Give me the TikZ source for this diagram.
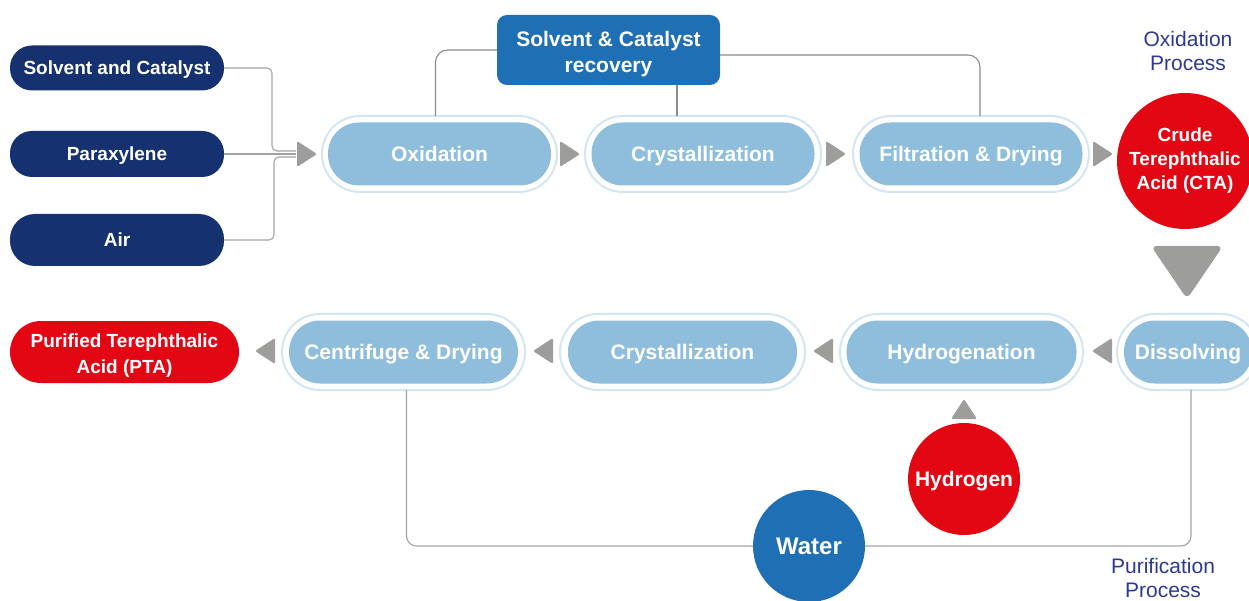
\documentclass[tikz,border=0pt]{standalone}
\usepackage{fontspec}
\setmainfont{Liberation Sans}
\definecolor{navy}{HTML}{15316F}
\definecolor{recblue}{HTML}{1F6FB5}
\definecolor{lblue}{HTML}{8FBEDD}
\definecolor{ringc}{HTML}{D3E6F1}
\definecolor{redc}{HTML}{E30613}
\definecolor{arrowc}{HTML}{9D9D9C}
\definecolor{linec}{HTML}{A3A3A3}
\definecolor{txtc}{HTML}{2B3990}
\begin{document}
\begin{tikzpicture}[x=1pt,y=-1pt,
  every node/.style={inner sep=0pt, outer sep=0pt, align=center, text=white,
    font=\bfseries\fontsize{21}{26}\selectfont},
  one/.style={text height=19pt, text depth=4pt},
  onesmall/.style={text height=17.7pt, text depth=4pt},
  darkpill/.style={fill=navy, minimum width=214pt, rounded corners=22pt, onesmall,
    font=\bfseries\fontsize{19}{22}\selectfont},
  ring/.style={draw=ringc, line width=2pt, fill=white, minimum height=76pt, rounded corners=38pt},
  inpill/.style={fill=lblue, minimum height=63pt, rounded corners=31pt, one},
  redcirc/.style={circle, fill=redc},
  conn/.style={draw=linec, line width=1.1pt},
  label/.style={text=txtc, font=\fontsize{21}{24}\selectfont},
  rtri/.pic={\fill[arrowc, rounded corners=2pt] (-10,-13) -- (10,0) -- (-10,13) -- cycle;},
  bigtri/.pic={\fill[arrowc, rounded corners=6pt] (-36,-26) -- (36,-26) -- (0,27) -- cycle;}
]
\useasboundingbox (0,0) rectangle (1249,601);

% input pills
\node[darkpill, minimum height=45pt] (sc) at (117,68) {Solvent and Catalyst};
\node[darkpill, minimum height=46pt] (px) at (117,154) {Paraxylene};
\node[darkpill, minimum height=52pt, rounded corners=25pt] (air) at (117,240) {Air};

% recovery box
\node[fill=recblue, minimum width=223pt, minimum height=70pt, rounded corners=10pt] (rec) at (608.5,50) {\rule{0pt}{23.5pt}Solvent \& Catalyst\\recovery};

% top row
\node[ring, minimum width=235pt] (ox-o) at (439.5,154) {};
\node[inpill, minimum width=223pt] (ox) at (439.5,154) {Oxidation};
\node[ring, minimum width=236pt] (cr-o) at (703,154) {};
\node[inpill, minimum width=223pt] (cr) at (703,154) {Crystallization};
\node[ring, minimum width=236pt] (fi-o) at (971,154) {};
\node[inpill, minimum width=223pt] (fi) at (971,154) {Filtration \& Drying};

% CTA
\node[redcirc, minimum size=136pt, font=\bfseries\fontsize{19}{24}\selectfont] (cta) at (1185,161) {Crude\\Terephthalic\\Acid (CTA)};
\node[label] (oxp) at (1188,51) {Oxidation\\Process};

% bottom row
\node[ring, minimum width=142pt] (ds-o) at (1188,352) {};
\node[inpill, minimum width=128pt] (ds) at (1188,352) {Dissolving};
\node[ring, minimum width=243pt] (hy-o) at (961.5,352) {};
\node[inpill, minimum width=230pt] (hy) at (961.5,352) {Hydrogenation};
\node[ring, minimum width=245pt] (cb-o) at (682.5,352) {};
\node[inpill, minimum width=229pt] (cb) at (682.5,352) {Crystallization};
\node[ring, minimum width=243pt] (cf-o) at (403.5,352) {};
\node[inpill, minimum width=229pt] (cf) at (403.5,352) {Centrifuge \& Drying};

\node[fill=redc, minimum width=229pt, minimum height=62pt, rounded corners=31pt,
  font=\bfseries\fontsize{19}{26}\selectfont] (pta) at (124.5,352) {\rule{0pt}{20pt}Purified Terephthalic\\Acid (PTA)};

\node[redcirc, minimum size=112pt, one] (h2) at (964,479) {Hydrogen};
\node[label] (pup) at (1163,578) {Purification\\Process};

% input connectors
\coordinate (inlet) at (296,154);
\draw[conn, rounded corners=5pt] (sc.east) -| (272,151) -- ([yshift=3pt]inlet);
\draw[conn] (px.east) -- (inlet);
\draw[conn, rounded corners=5pt] (air.east) -| (274,157) -- ([yshift=-3pt]inlet);

% recovery connectors
\draw[conn, draw=linec!85!black, rounded corners=12pt] (rec.west) -| ([xshift=-4pt]ox-o.north);
\draw[conn, draw=linec!85!black] ([xshift=-26pt]cr-o.north) -- ([xshift=-26pt]cr-o.north |- rec.south);
\draw[conn, draw=linec!85!black, rounded corners=12pt] ([yshift=-5pt]rec.east) -| ([xshift=9pt]fi-o.north);

% water loop
\draw[conn, rounded corners=10pt] ([xshift=3pt]cf-o.south) |- (809,546) -| ([xshift=3pt]ds-o.south);
\node[circle, fill=recblue, minimum size=112pt, text height=21.3pt, text depth=4pt,
  font=\bfseries\fontsize{24}{26}\selectfont] (water) at (809,546) {Water};

% arrowheads
\pic at (307,154) {rtri};
\pic at (570,154) {rtri};
\pic at (836,154) {rtri};
\pic at (1103,154) {rtri};
\pic[rotate=180] at (265,351) {rtri};
\pic[rotate=180] at (543,351) {rtri};
\pic[rotate=180] at (823,351) {rtri};
\pic[rotate=180] at (1102,351) {rtri};
\pic[rotate=90] at (964,409) {rtri};
\pic at (1187,272) {bigtri};
\end{tikzpicture}
\end{document}
